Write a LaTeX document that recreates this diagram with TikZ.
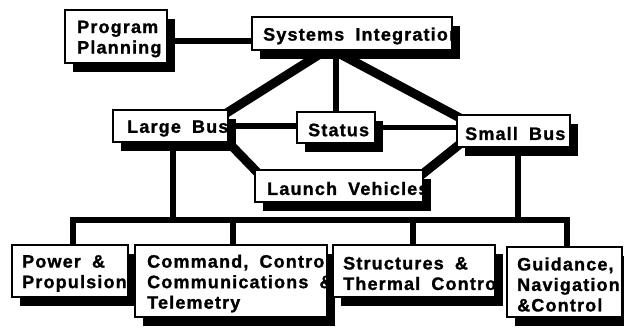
\documentclass[tikz,border=0pt]{standalone}
\usepackage{fontspec}
\setmainfont{Liberation Sans}[LetterSpace=6.5,WordSpace=1.8,BoldFeatures={FakeBold=1.2}]
\usetikzlibrary{shadows,backgrounds}

\tikzset{
  boxshape/.style={rectangle, fill=white, inner sep=0pt, outer sep=0pt,
    anchor=north west,
    drop shadow={shadow xshift=8pt, shadow yshift=-9pt, fill=black, opacity=1}},
  boxline/.style={draw=black, line width=2.6pt},
  boxtext/.style={anchor=west, inner sep=0pt, align=left,
    font=\fontsize{18}{20.5}\selectfont\bfseries},
  conn/.style={draw=black, line width=5.5pt},
  heavy/.style={draw=black, line width=9pt},
}

% \tagbox[text indent]{name}{left}{top}{width}{height}{text}
% a shadowed box whose text is clipped at the box edge
\newcommand\tagbox[7][11]{%
  \node[boxshape, minimum width=#5pt, minimum height=#6pt] (#2) at (#3,#4) {};
  \begin{scope}
    \clip (#2.north west) rectangle (#2.south east);
    \node[boxtext] (#2-t) at ([xshift=#1pt,yshift=-2.5pt]#2.west) {#7};
  \end{scope}
  \draw[boxline] (#2.north west) rectangle (#2.south east);
}

\begin{document}
\begin{tikzpicture}[x=1pt,y=-1pt]
\useasboundingbox (0,0) rectangle (624,329);

% organisation boxes
\tagbox[12]{pp}{65}{10}{102}{53}{Program\\Planning}
\tagbox[11]{si}{252}{17}{200}{33}{Systems Integration}
\tagbox[14]{lb}{113}{110}{115}{32}{Large Bus}
\tagbox[11]{st}{297}{112}{78}{31}{Status}
\tagbox[8]{sb}{457}{115}{113}{32}{Small Bus}
\tagbox[12]{lv}{255}{170}{168}{32}{Launch Vehicles}
\tagbox[10]{pw}{12}{245}{116}{52}{Power \&\\Propulsion}
\tagbox[12]{cm}{135}{245}{192}{72}{Command, Control\\Communications \&\\Telemetry}
\tagbox[10]{tc}{333}{245}{162}{52}{Structures \&\\Thermal Control}
\tagbox[10]{gn}{507}{247}{115}{70}{Guidance,\\Navigation\\\&Control}

% connector end points
\coordinate (bus) at (300,220);
\coordinate (ppout) at ([yshift=-4.5pt]pp.east);
\coordinate (silb) at ([xshift=-32pt,yshift=-4pt]si.south);
\coordinate (sisb) at ([xshift=-12pt,yshift=-4pt]si.south);
\coordinate (lbin) at ([xshift=-3pt,yshift=-4pt]lb.north east);
\coordinate (sbin) at ([xshift=3pt,yshift=-3pt]sb.north west);
\coordinate (lbout) at ([xshift=-3pt,yshift=3pt]lb.south east);
\coordinate (lvl) at ([xshift=2pt,yshift=-2pt]lv.north west);
\coordinate (sbout) at ([xshift=3pt,yshift=3pt]sb.south west);
\coordinate (lvr) at ([xshift=-3pt,yshift=-6pt]lv.north east);
\coordinate (lbdown) at ([xshift=2.5pt]lb.south);
\coordinate (sbdown) at ([xshift=4.5pt]sb.south);
\coordinate (pwup) at ([xshift=3pt]pw.north);
\coordinate (cmup) at ([xshift=2pt]cm.north);
\coordinate (tcup) at ([xshift=-1pt]tc.north);
\coordinate (gnup) at ([xshift=2.5pt]gn.north);

\begin{pgfonlayer}{background}
  \fill[white] (0,0) rectangle (624,329);
  % planning link
  \draw[conn] (ppout) -- (ppout -| si.west);
  % systems integration to the buses and status
  \draw[heavy] (silb) -- (lbin);
  \draw[heavy] (sisb) -- (sbin);
  \draw[conn] (st.north) -- (st.north |- si.south);
  \draw[conn] (lb.east) -- (lb.east -| st.west);
  \draw[conn] (st.east) -- (st.east -| sb.west);
  % buses to launch vehicles
  \draw[heavy] (lbout) -- (lvl);
  \draw[heavy] (sbout) -- (lvr);
  % subsystem bus
  \draw[conn] (lbdown) -- (lbdown |- bus);
  \draw[conn] (sbdown) -- (sbdown |- bus);
  \draw[conn] (pwup) |- (gnup |- bus) -- (gnup);
  \draw[conn] (cmup) -- (cmup |- bus);
  \draw[conn] (tcup) -- (tcup |- bus);
\end{pgfonlayer}
\end{tikzpicture}
\end{document}
